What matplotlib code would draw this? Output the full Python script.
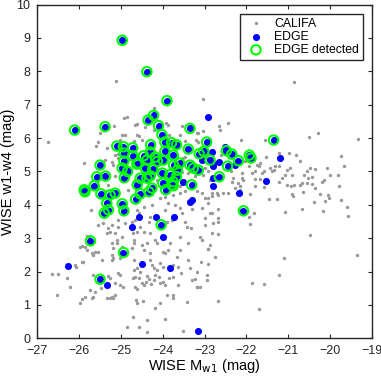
import matplotlib
matplotlib.use('Agg')
import matplotlib.pyplot as plt

# CALIFA sample (grey dots): absolute W1 magnitude vs w1-w4 colour
califa_x = [
    -26.74, -25.12, -24.93, -24.86, -25.16, -24.66, -24.62, -24.58, -24.98, -24.90,
    -25.50, -25.56, -25.60, -25.34, -25.06, -25.88, -25.18, -24.50, -24.42, -24.21,
    -23.92, -23.48, -23.59, -23.55, -25.14, -25.30, -24.46, -24.22, -24.62, -23.87,
    -23.55, -23.15, -23.03, -25.38, -25.22, -25.14, -25.06, -25.02,
    -20.85, -23.03, -22.65, -22.43, -20.50, -20.29, -19.34, -23.19, -23.15, -22.13,
    -22.63, -21.55, -21.54, -21.21, -20.97, -20.81, -20.73, -19.74, -19.66, -21.71,
    -21.63, -21.39, -21.23, -21.07, -21.03, -20.63, -20.48, -20.44, -20.52, -20.36,
    -20.08, -20.00, -19.81, -20.67, -20.44, -20.36, -20.14, -20.20, -19.78, -22.11,
    -22.07, -22.19, -22.35, -20.72, -22.03, -21.95, -21.75, -21.67, -21.59, -21.43,
    -21.35, -21.31, -20.95, -20.91, -20.55, -21.15, -21.23, -21.79, -21.67, -21.79,
    -21.87, -22.11, -22.15, -22.37, -22.33, -22.27, -22.15, -21.02, -20.94, -20.85,
    -20.55, -21.79, -21.59,
    -20.65, -20.25, -20.05, -20.02, -20.38, -20.12, -19.73, -19.60, -19.57, -20.67,
    -20.17, -20.48, -19.36, -22.67, -22.55, -22.43, -23.07, -22.83, -22.91, -22.99,
    -21.91, -21.45, -21.27, -20.91, -20.88, -21.07, -23.31, -22.83, -22.67, -22.17,
    -21.83, -21.93, -21.91, -22.99, -22.67, -22.67, -23.32, -22.69, -22.93, -21.11,
    -23.09, -22.91, -21.21, -23.24, -22.95, -21.87, -21.59, -23.17, -23.11, -22.67,
    -21.71,
    -24.26, -24.06, -23.94, -23.75, -23.71, -23.87, -24.26, -24.46, -24.62, -24.58,
    -24.30, -24.34, -23.94, -23.59, -23.55, -23.07, -22.91, -22.87, -22.79, -23.46,
    -23.43, -23.59, -23.39, -23.59, -23.67, -23.39, -23.83, -23.87, -23.99, -23.95,
    -24.18, -24.14, -24.38, -24.50, -24.46, -24.30, -24.70, -24.69, -24.74, -24.70,
    -24.30, -24.26, -24.22, -24.14, -24.62, -24.70, -24.54, -24.06, -23.99, -23.75,
    -23.63, -23.35, -23.19, -22.95, -24.18, -24.10, -24.38, -22.91, -23.11, -23.07,
    -22.83, -22.87, -22.75, -22.99, -23.79, -23.91, -24.74, -24.66, -24.54, -24.72,
    -24.62, -24.30, -24.46, -23.59, -23.47, -23.19, -22.83, -22.71,
    -25.72, -25.42, -25.30, -25.22, -25.06, -25.06, -24.90, -25.34, -25.26, -25.14,
    -24.98, -25.22, -25.18, -24.98, -25.86, -25.94, -25.82, -25.62, -25.54, -25.46,
    -25.22, -25.18, -25.22, -25.90, -25.02, -26.66, -26.50, -26.30, -25.66, -25.06,
    -25.02, -25.26, -25.30, -26.22, -26.52, -25.98, -25.94, -25.86, -25.74, -25.62,
    -25.70, -25.66, -25.14, -25.02, -24.94, -25.34, -25.26, -25.22, -25.18, -25.14,
    -24.66, -24.62, -24.64, -24.62, -24.48, -24.18, -24.06, -23.95, -24.38, -24.72,
    -24.85, -24.58, -24.38, -24.06, -23.99, -23.95, -23.91, -23.75, -23.76, -23.63,
    -23.43, -23.19, -23.52, -26.07, -26.10, -25.70, -25.66, -25.93, -25.82, -25.76,
    -25.98, -25.54, -25.10, -25.09, -24.50, -24.40, -24.33, -24.45, -24.28, -24.20,
    -24.58, -24.72, -24.66, -23.86, -23.75, -23.57, -23.31, -25.48,
    -24.66, -24.58, -24.82, -24.14, -23.59, -23.51, -23.23, -23.03, -22.91, -22.87,
    -22.99, -23.39, -24.70, -23.85, -23.60, -23.20, -22.60, -22.95, -23.47,
]
califa_y = [
    5.88, 7.71, 6.59, 6.62, 6.36, 6.39, 6.10, 6.06, 6.10, 6.10,
    6.16, 5.88, 5.76, 5.70, 5.52, 5.25, 5.19, 5.94, 6.34, 6.24,
    6.44, 5.44, 5.19, 4.98, 4.86, 4.60, 4.89, 6.90, 6.42, 6.39,
    6.35, 6.15, 6.20, 5.34, 5.29, 5.49, 5.40, 5.94,
    7.67, 7.16, 6.35, 6.44, 6.04, 6.16, 5.98, 6.16, 5.89, 5.94,
    6.24, 5.94, 5.44, 5.55, 5.56, 5.49, 5.30, 5.46, 5.15, 5.15,
    4.95, 5.00, 5.15, 4.90, 5.04, 4.90, 5.10, 4.84, 4.81, 5.07,
    5.10, 4.90, 4.90, 4.65, 4.63, 4.50, 4.75, 4.67, 4.55, 4.95,
    4.75, 4.65, 4.67, 4.60, 5.30, 5.15, 5.19, 5.25, 5.00, 5.10,
    5.04, 5.15, 5.10, 4.90, 5.00, 4.80, 4.69, 4.77, 4.77, 5.00,
    4.95, 4.80, 4.55, 5.00, 4.80, 4.50, 4.45, 4.60, 4.55, 4.60,
    4.65, 4.55, 4.53,
    4.39, 4.33, 4.30, 4.20, 4.08, 4.10, 4.13, 3.94, 3.67, 3.87,
    3.82, 3.10, 2.50, 4.30, 4.35, 4.35, 4.35, 4.25, 4.20, 4.20,
    4.33, 4.17, 4.17, 4.33, 4.27, 3.78, 3.87, 3.77, 3.87, 3.83,
    3.77, 3.63, 3.43, 3.60, 3.60, 3.50, 3.31, 3.12, 2.67, 2.40,
    2.30, 2.23, 1.90, 1.77, 1.75, 1.65, 1.62, 1.53, 1.55, 1.12,
    0.88,
    4.33, 4.20, 4.24, 4.30, 4.00, 4.05, 4.00, 3.94, 3.85, 3.75,
    3.65, 3.50, 3.85, 3.90, 3.75, 3.90, 4.05, 3.75, 3.45, 3.50,
    3.35, 3.05, 2.85, 2.65, 2.45, 2.35, 2.85, 2.65, 2.60, 2.55,
    2.95, 2.85, 2.85, 2.80, 2.65, 2.55, 2.95, 2.85, 2.70, 2.35,
    2.35, 2.20, 2.10, 2.05, 2.10, 2.05, 2.00, 2.25, 2.15, 2.20,
    2.15, 2.10, 2.00, 1.90, 1.90, 1.85, 1.87, 2.67, 3.05, 2.95,
    3.15, 2.80, 2.45, 3.40, 3.55, 3.50, 3.50, 3.55, 3.35, 3.15,
    3.20, 3.15, 3.20, 4.35, 4.40, 4.40, 4.35, 4.35,
    3.85, 3.45, 3.30, 3.40, 3.55, 3.35, 3.45, 3.15, 3.20, 3.15,
    3.05, 2.85, 2.70, 2.75, 2.75, 2.77, 2.65, 2.60, 2.60, 2.35,
    2.50, 2.40, 2.35, 2.30, 2.40, 1.93, 1.93, 1.80, 1.90, 1.95,
    1.90, 1.80, 1.87, 1.55, 1.30, 1.05, 1.17, 1.25, 1.45, 1.40,
    1.20, 1.23, 1.67, 1.60, 1.55, 1.20, 1.20, 1.25, 1.20, 1.30,
    1.55, 1.47, 1.15, 1.05, 1.13, 0.90, 1.05, 0.57, 0.55, 0.65,
    0.33, 0.33, 0.19, 1.65, 1.70, 1.60, 1.30, 1.30, 1.20, 1.60,
    1.10, 1.55, 0.22, 2.13, 2.20, 2.55, 2.50, 2.30, 3.07, 3.05,
    2.75, 3.40, 2.95, 2.85, 1.65, 1.70, 1.77, 1.60, 1.62, 1.75,
    1.80, 1.80, 1.85, 1.80, 1.85, 1.95, 1.75, 1.50,
    4.69, 4.55, 4.45, 4.75, 4.55, 5.40, 4.85, 4.90, 5.00, 4.75,
    5.10, 4.95, 5.90, 6.10, 6.10, 5.95, 5.50, 5.40, 5.90,
]

# EDGE galaxies with CO detection (blue dot + green ring)
det_x = [
    -24.97, -24.38, -23.90, -26.11, -25.38, -24.35, -24.22, -24.10, -24.02, -23.35,
    -25.10, -24.94, -24.72, -24.29, -23.95, -23.79, -23.67, -23.95, -23.75, -23.39,
    -22.95, -23.13, -23.02, -24.92, -24.72, -24.93, -24.46, -24.38, -24.30, -24.18,
    -24.13, -23.99, -23.60, -23.74, -24.62, -24.97, -24.84, -24.92, -24.42, -24.24,
    -24.38, -25.50, -25.58, -25.37, -25.64, -25.88, -24.61, -24.01, -23.83, -23.65,
    -23.67, -24.00, -23.78, -23.35, -23.27, -23.15, -23.31, -22.65, -21.35, -22.48,
    -22.35, -21.93, -21.89, -22.19, -22.45, -22.87, -25.86, -25.48, -25.26, -25.14,
    -25.34, -25.30, -25.40, -24.97, -24.93, -24.65, -24.54, -24.33, -23.93, -24.04,
    -25.73, -24.94, -25.50, -22.07, -24.58, -24.54, -24.30, -23.75, -24.26, -23.75,
]
det_y = [
    8.93, 7.99, 7.12, 6.24, 6.34, 6.54, 6.68, 6.37, 6.10, 6.29,
    5.76, 5.74, 5.71, 5.80, 5.88, 5.86, 5.80, 5.60, 5.49, 5.67,
    5.88, 5.53, 5.60, 5.55, 5.47, 5.31, 5.47, 5.34, 5.58, 5.43,
    5.30, 5.34, 5.25, 5.19, 5.22, 5.10, 5.00, 4.81, 5.10, 5.07,
    4.80, 5.19, 4.84, 4.86, 4.57, 4.45, 4.60, 4.95, 4.90, 5.04,
    4.84, 4.65, 4.60, 5.19, 5.10, 5.04, 4.60, 4.84, 5.94, 5.62,
    5.52, 5.49, 5.40, 5.32, 5.16, 5.34, 4.39, 4.33, 4.30, 4.35,
    4.05, 3.85, 3.75, 4.03, 3.82, 4.17, 4.33, 4.39, 4.45, 3.40,
    2.92, 2.57, 1.77, 3.82, 5.25, 4.80, 4.87, 4.69, 4.50, 4.57,
]

# EDGE galaxies without detection (blue dot only)
nodet_x = [
    -22.92, -22.51, -22.27, -22.66, -22.81, -23.07, -22.79, -22.79, -21.53, -21.19,
    -23.52, -24.58, -24.17, -23.72, -24.74, -23.99, -23.35, -23.29, -22.17, -24.49,
    -23.83, -26.26, -25.34, -23.15, -22.83, -22.79,
]
nodet_y = [
    6.62, 5.74, 5.19, 5.29, 5.22, 5.34, 4.80, 4.55, 4.72, 5.40,
    4.69, 3.63, 3.63, 3.63, 3.35, 3.03, 4.08, 4.15, 4.35, 2.22,
    2.10, 2.16, 1.60, 0.22, 5.58, 5.15,
]

plt.rcParams['font.family'] = ['Liberation Sans', 'DejaVu Sans']

fig = plt.figure(figsize=(3.81, 3.81), dpi=100)
ax = fig.add_axes([0.098, 0.112, 0.878, 0.876])

# grey CALIFA background
ax.scatter(califa_x, califa_y, s=6, color='#999999', linewidths=0, label='CALIFA', zorder=2)

# all EDGE galaxies in blue
edge_x = nodet_x + det_x
edge_y = nodet_y + det_y
ax.scatter(edge_x, edge_y, s=26, color='#0000ff', linewidths=0, label='EDGE', zorder=3)

# green rings for the detections
ax.scatter(det_x, det_y, s=46, facecolors='none', edgecolors='#00ff00', linewidths=1.5,
           label='EDGE detected', zorder=4)

ax.set_xlim(-27, -19)
ax.set_ylim(0, 10)
ax.set_xticks(range(-27, -18))
ax.set_yticks(range(0, 11))
ax.tick_params(direction='in', top=True, right=True, length=3, width=0.8,
               labelsize=9, colors='#262626', pad=5)
for sp in ax.spines.values():
    sp.set_linewidth(1.0)
    sp.set_color('#262626')

ax.set_xlabel('WISE M$_{\\rm w1}$ (mag)', fontsize=10.5, labelpad=0)
ax.set_ylabel('WISE w1-w4 (mag)', fontsize=10.5, labelpad=1)

leg = ax.legend(loc='upper right', bbox_to_anchor=(0.973, 0.972), fontsize=8.8,
                fancybox=False, edgecolor='#262626', framealpha=1, borderpad=0.3,
                handletextpad=0.5, labelspacing=0.1, scatterpoints=1,
                handlelength=2.0, borderaxespad=0)
leg.get_frame().set_linewidth(1.0)

fig.savefig('out.png', dpi=100)
